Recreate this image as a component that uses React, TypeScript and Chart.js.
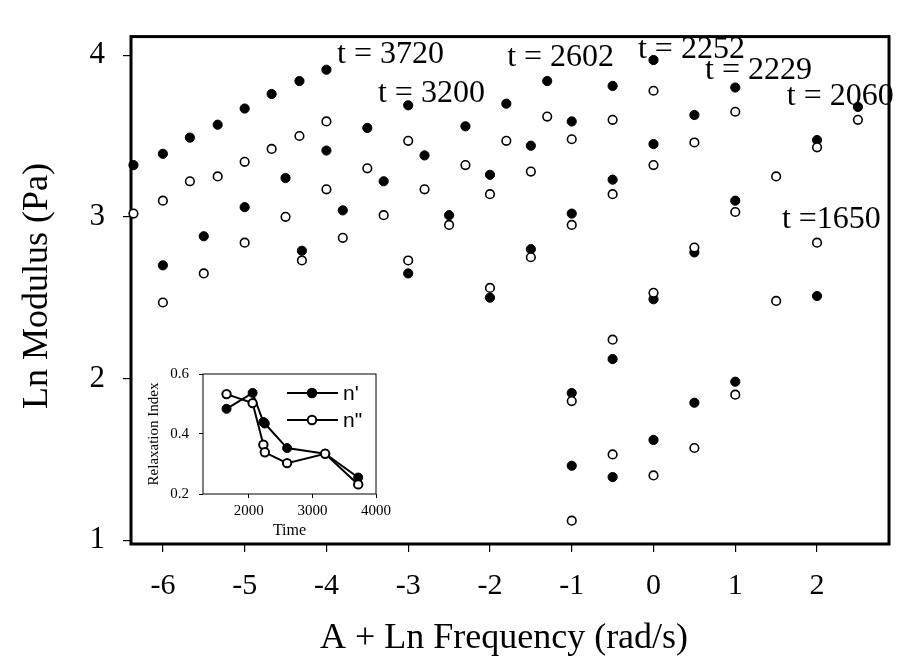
import React, { useEffect, useRef } from "react";
import { Chart, registerables } from "chart.js";
Chart.register(...registerables);

// ---------- main chart data ----------
const xTickValues = [-6, -5, -4, -3, -2, -1, 0, 1, 2];
const yTickValues = [1, 2, 3, 4];

// t = 3720
const x3720 = [-6.36, -6.0, -5.67, -5.33, -5.0, -4.67, -4.33, -4.0];
const gp3720 = [3.32, 3.39, 3.49, 3.57, 3.67, 3.76, 3.84, 3.91];
const gpp3720 = [3.02, 3.1, 3.22, 3.25, 3.34, 3.42, 3.5, 3.59];
// t = 3200
const x3200 = [-6.0, -5.5, -5.0, -4.5, -4.0, -3.5, -3.0];
const gp3200 = [2.7, 2.88, 3.06, 3.24, 3.41, 3.55, 3.69];
const gpp3200 = [2.47, 2.65, 2.84, 3.0, 3.17, 3.3, 3.47];
// t = 2602
const x2602 = [-4.3, -3.8, -3.3, -2.8, -2.3, -1.8, -1.3];
const gp2602 = [2.79, 3.04, 3.22, 3.38, 3.56, 3.7, 3.84];
const gpp2602 = [2.73, 2.87, 3.01, 3.17, 3.32, 3.47, 3.62];
// t = 2252
const x2252 = [-3.0, -2.5, -2.0, -1.5, -1.0, -0.5, 0.0];
const gp2252 = [2.65, 3.01, 3.26, 3.44, 3.59, 3.81, 3.97];
const gpp2252 = [2.73, 2.95, 3.14, 3.28, 3.48, 3.6, 3.78];
// t = 2229
const x2229 = [-2.0, -1.5, -1.0, -0.5, 0.0, 0.5, 1.0];
const gp2229 = [2.5, 2.8, 3.02, 3.23, 3.45, 3.63, 3.8];
const gpp2229 = [2.56, 2.75, 2.95, 3.14, 3.32, 3.46, 3.65];
// t = 2060
const x2060 = [-1.0, -0.5, 0.0, 0.5, 1.0, 1.5, 2.0, 2.5];
const gp2060 = [1.91, 2.12, 2.49, 2.78, 3.1, null, 3.475, 3.68];
const gpp2060 = [1.86, 2.24, 2.53, 2.81, 3.03, 3.25, 3.43, 3.6];
// t = 1650
const x1650 = [-1.0, -0.5, 0.0, 0.5, 1.0, 1.5, 2.0];
const gp1650 = [1.46, 1.39, 1.62, 1.85, 1.98, null, 2.51];
const gpp1650 = [1.12, 1.53, 1.4, 1.57, 1.9, 2.48, 2.84];

const seriesX = [x3720, x3200, x2602, x2252, x2229, x2060, x1650];
const seriesGp = [gp3720, gp3200, gp2602, gp2252, gp2229, gp2060, gp1650];
const seriesGpp = [gpp3720, gpp3200, gpp2602, gpp2252, gpp2229, gpp2060, gpp1650];
const seriesNames = ["3720", "3200", "2602", "2252", "2229", "2060", "1650"];

// annotations (text, anchored at data coordinates: left x, centre y)
const annoText = ["t = 3720", "t = 3200", "t = 2602", "t = 2252", "t = 2229", "t = 2060", "t =1650"];
const annoX = [-3.87, -3.37, -1.79, -0.19, 0.63, 1.63, 1.57];
const annoY = [4.02, 3.78, 4.0, 4.05, 3.92, 3.76, 3.0];

// ---------- inset data ----------
const insetTimes = [1650, 2060, 2229, 2252, 2602, 3200, 3720];
const nPrime = [0.484, 0.537, 0.44, 0.435, 0.353, 0.334, 0.255];
const nDouble = [0.533, 0.503, 0.364, 0.339, 0.303, 0.334, 0.232];
const insetXTicks = [2000, 3000, 4000];
const insetYTicks = [0.2, 0.4, 0.6];

const SERIF = "'Liberation Serif', 'Times New Roman', serif";
const SANS = "'Liberation Sans', Arial, sans-serif";

const mainPlugin = {
  id: "mainDecor",
  beforeDatasetsDraw(chart: any) {
    const { ctx, chartArea, scales } = chart;
    ctx.save();
    // annotations
    ctx.fillStyle = "#000";
    ctx.font = `32px ${SERIF}`;
    ctx.textAlign = "left";
    ctx.textBaseline = "alphabetic";
    annoText.forEach((t, i) => {
      const px = scales.x.getPixelForValue(annoX[i]);
      const py = scales.y.getPixelForValue(annoY[i]);
      ctx.fillText(t, px, py + 11);
    });
    // frame
    ctx.strokeStyle = "#000";
    ctx.lineWidth = 3;
    ctx.strokeRect(chartArea.left, chartArea.top, chartArea.right - chartArea.left, chartArea.bottom - chartArea.top);
    // axis titles
    ctx.font = `36px ${SERIF}`;
    ctx.textAlign = "center";
    ctx.fillText("A + Ln Frequency (rad/s)", 504, 648);
    ctx.translate(47, 286);
    ctx.rotate(-Math.PI / 2);
    ctx.fillText("Ln Modulus (Pa)", 0, 0);
    ctx.restore();
  },
};

function MainChart() {
  const ref = useRef<HTMLCanvasElement>(null);
  useEffect(() => {
    const datasets: any[] = [];
    seriesNames.forEach((name, s) => {
      datasets.push({
        label: `G'' t=${name}`,
        data: seriesX[s].map((x, i) => ({ x, y: seriesGpp[s][i] })).filter((p) => p.y !== null),
        pointStyle: "circle",
        pointRadius: 4.3,
        pointBackgroundColor: "#fff",
        pointBorderColor: "#000",
        pointBorderWidth: 1.6,
        showLine: false,
        clip: false,
      });
    });
    seriesNames.forEach((name, s) => {
      datasets.push({
        label: `G' t=${name}`,
        data: seriesX[s].map((x, i) => ({ x, y: seriesGp[s][i] })).filter((p) => p.y !== null),
        pointStyle: "circle",
        pointRadius: 4.6,
        pointBackgroundColor: "#000",
        pointBorderColor: "#000",
        pointBorderWidth: 1,
        showLine: false,
        clip: false,
      });
    });
    const chart = new Chart(ref.current!, {
      type: "scatter",
      data: { datasets },
      options: {
        responsive: false,
        animation: false,
        devicePixelRatio: 1,
        layout: { padding: { top: 14, right: 10, left: 0, bottom: 0 } },
        plugins: { legend: { display: false }, tooltip: { enabled: false } },
        scales: {
          x: {
            type: "linear",
            min: -6.39,
            max: 2.88,
            afterBuildTicks: (s: any) => {
              s.ticks = xTickValues.map((v) => ({ value: v }));
            },
            afterFit: (s: any) => {
              s.height = 120;
            },
            grid: { drawOnChartArea: false, drawTicks: true, tickLength: 8, color: "#000", lineWidth: 1.2 },
            border: { display: false },
            ticks: { color: "#000", font: { family: SERIF, size: 30 }, padding: 16, maxRotation: 0, autoSkip: false },
          },
          y: {
            type: "linear",
            min: 0.976,
            max: 4.115,
            afterBuildTicks: (s: any) => {
              s.ticks = yTickValues.map((v) => ({ value: v }));
            },
            afterFit: (s: any) => {
              s.width = 131;
            },
            grid: { drawOnChartArea: false, drawTicks: true, tickLength: 8, color: "#000", lineWidth: 1.2 },
            border: { display: false },
            ticks: { color: "#000", font: { family: SERIF, size: 31 }, padding: 18, autoSkip: false },
          },
        },
      },
      plugins: [mainPlugin],
    });
    return () => chart.destroy();
  }, []);
  return <canvas ref={ref} width={899} height={664} style={{ position: "absolute", left: 0, top: 0, width: 899, height: 664 }} />;
}

const insetPlugin = {
  id: "insetDecor",
  beforeDatasetsDraw(chart: any) {
    const { ctx, chartArea } = chart;
    ctx.save();
    ctx.strokeStyle = "#000";
    ctx.lineWidth = 1;
    ctx.strokeRect(chartArea.left, chartArea.top, chartArea.right - chartArea.left, chartArea.bottom - chartArea.top);
    ctx.restore();
  },
  afterDatasetsDraw(chart: any) {
    const { ctx } = chart;
    ctx.save();
    const rows = [
      { y: 38, fill: "#000", text: "n'" },
      { y: 65, fill: "#fff", text: 'n"' },
    ];
    rows.forEach((r) => {
      ctx.strokeStyle = "#000";
      ctx.lineWidth = 2;
      ctx.beginPath();
      ctx.moveTo(142, r.y);
      ctx.lineTo(193, r.y);
      ctx.stroke();
      ctx.beginPath();
      ctx.arc(167, r.y, 4.3, 0, Math.PI * 2);
      ctx.fillStyle = r.fill;
      ctx.fill();
      ctx.stroke();
      ctx.fillStyle = "#000";
      ctx.font = `21px ${SANS}`;
      ctx.textAlign = "left";
      ctx.textBaseline = "middle";
      ctx.fillText(r.text, 198, r.y + 1);
    });
    ctx.restore();
  },
};

function InsetChart() {
  const ref = useRef<HTMLCanvasElement>(null);
  useEffect(() => {
    const chart = new Chart(ref.current!, {
      type: "line",
      data: {
        datasets: [
          {
            label: 'n"',
            data: insetTimes.map((t, i) => ({ x: t, y: nDouble[i] })),
            borderColor: "#000",
            borderWidth: 2,
            pointRadius: 4.2,
            pointBackgroundColor: "#fff",
            pointBorderColor: "#000",
            pointBorderWidth: 2,
            tension: 0,
            clip: false,
          },
          {
            label: "n'",
            data: insetTimes.map((t, i) => ({ x: t, y: nPrime[i] })),
            borderColor: "#000",
            borderWidth: 2,
            pointRadius: 4.5,
            pointBackgroundColor: "#000",
            pointBorderColor: "#000",
            pointBorderWidth: 1,
            tension: 0,
            clip: false,
          },
        ],
      },
      options: {
        responsive: false,
        animation: false,
        devicePixelRatio: 1,
        layout: { padding: { top: 12, right: 12, left: 0, bottom: 0 } },
        plugins: { legend: { display: false }, tooltip: { enabled: false } },
        scales: {
          x: {
            type: "linear",
            min: 1280,
            max: 4000,
            afterBuildTicks: (s: any) => {
              s.ticks = insetXTicks.map((v) => ({ value: v }));
            },
            afterFit: (s: any) => {
              s.height = 46;
            },
            grid: { drawOnChartArea: false, drawTicks: true, tickLength: 4, color: "#000", lineWidth: 1 },
            border: { display: false },
            ticks: {
              color: "#000",
              font: { family: SERIF, size: 15 },
              padding: 4,
              maxRotation: 0,
              autoSkip: false,
              callback: (v: any) => String(v),
            },
            title: { display: true, text: "Time", color: "#000", font: { family: SERIF, size: 16 }, padding: { top: 0, bottom: 0 } },
          },
          y: {
            type: "linear",
            min: 0.2,
            max: 0.6,
            afterBuildTicks: (s: any) => {
              s.ticks = insetYTicks.map((v) => ({ value: v }));
            },
            afterFit: (s: any) => {
              s.width = 58;
            },
            grid: { drawOnChartArea: false, drawTicks: true, tickLength: 4, color: "#000", lineWidth: 1 },
            border: { display: false },
            ticks: {
              color: "#000",
              font: { family: SERIF, size: 15 },
              padding: 10,
              autoSkip: false,
              callback: (v: any) => Number(v).toFixed(1),
            },
            title: { display: true, text: "Relaxation Index", color: "#000", font: { family: SERIF, size: 15 }, padding: { top: 0, bottom: 0 } },
          },
        },
      },
      plugins: [insetPlugin],
    });
    return () => chart.destroy();
  }, []);
  return <canvas ref={ref} width={250} height={185} style={{ position: "absolute", left: 145, top: 355, width: 250, height: 185 }} />;
}

export default function App() {
  return (
    <div style={{ position: "fixed", left: 0, top: 0, width: 899, height: 664, background: "#fff", overflow: "hidden" }}>
      <MainChart />
      <InsetChart />
    </div>
  );
}
